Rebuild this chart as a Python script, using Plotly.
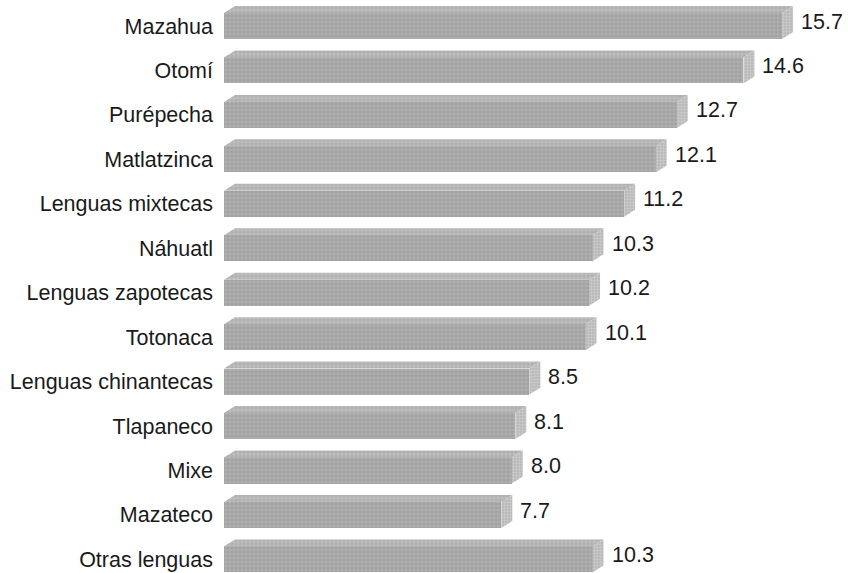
import plotly.graph_objects as go

categories = ["Mazahua", "Otomí", "Purépecha", "Matlatzinca", "Lenguas mixtecas",
              "Náhuatl", "Lenguas zapotecas", "Totonaca", "Lenguas chinantecas",
              "Tlapaneco", "Mixe", "Mazateco", "Otras lenguas"]
values = [15.7, 14.6, 12.7, 12.1, 11.2, 10.3, 10.2, 10.1, 8.5, 8.1, 8.0, 7.7, 10.3]

BASE = -0.2        # bar start (data units)
HALF = 0.293       # half bar thickness (category units)
DX = 0.313         # 3D depth in x (data units)
DY = 0.157         # 3D depth in y (category units)

ypos = list(range(len(categories)))

fig = go.Figure()

# front faces
fig.add_trace(go.Bar(
    x=[v - BASE for v in values], y=ypos, base=BASE, orientation="h",
    width=2 * HALF,
    marker=dict(color="#a6a6a6", line=dict(width=0),
                pattern=dict(shape="+", size=4, solidity=0.3,
                             fgcolor="#d6d6d6", bgcolor="#a0a0a0")),
    hoverinfo="skip", showlegend=False))

# top faces
tx, ty = [], []
for y, v in zip(ypos, values):
    t = y - HALF
    tx += [BASE, v, v + DX, BASE + DX, BASE, None]
    ty += [t, t, t - DY, t - DY, t, None]
fig.add_trace(go.Scatter(
    x=tx, y=ty, mode="lines", line=dict(width=0), fill="toself",
    fillcolor="#b8b8b8",
    fillpattern=dict(shape="+", size=4, solidity=0.3, fgcolor="#dedede", bgcolor="#b0b0b0"),
    hoverinfo="skip", showlegend=False))

# side faces
sx, sy = [], []
for y, v in zip(ypos, values):
    t = y - HALF
    b = y + HALF
    sx += [v, v + DX, v + DX, v, v, None]
    sy += [t, t - DY, b - DY, b, t, None]
fig.add_trace(go.Scatter(
    x=sx, y=sy, mode="lines", line=dict(width=0), fill="toself",
    fillcolor="#c4c4c4",
    fillpattern=dict(shape="+", size=3, solidity=0.3, fgcolor="#e6e6e6", bgcolor="#bababa"),
    hoverinfo="skip", showlegend=False))

FONT = "Liberation Sans, Arial, sans-serif"
FS = 21.5
for y, v in zip(ypos, values):
    fig.add_annotation(x=v + DX, y=y - 0.1, text=f"{v:.1f}", showarrow=False,
                       xanchor="left", yanchor="middle", xshift=6,
                       font=dict(family=FONT, size=FS, color="#1a1a1a"))

fig.update_layout(
    width=848, height=573,
    margin=dict(l=224, r=0, t=0, b=0),
    paper_bgcolor="white", plot_bgcolor="white",
    bargap=0,
    font=dict(family=FONT, size=FS, color="#1a1a1a"),
    xaxis=dict(range=[BASE, BASE + 624 / 35.1], visible=False, fixedrange=True),
    yaxis=dict(range=[12.306, -0.585], tickvals=ypos, ticktext=categories,
               showgrid=False, zeroline=False, showline=False, ticks="",
               ticklabelstandoff=10, tickfont=dict(family=FONT, size=FS, color="#1a1a1a")),
)

fig.write_html("out.html")
